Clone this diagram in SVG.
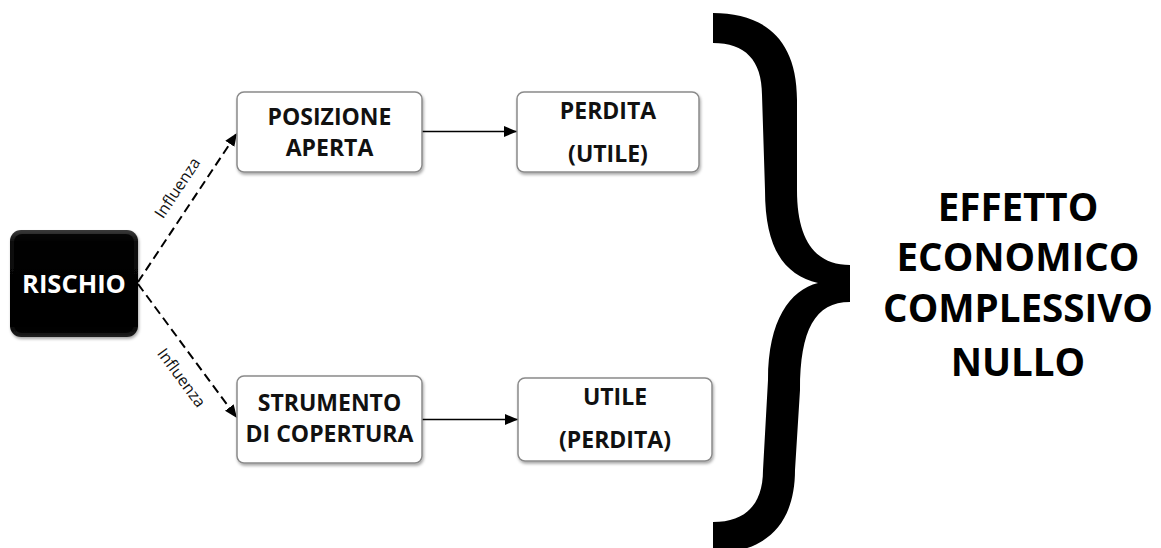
<svg xmlns="http://www.w3.org/2000/svg" width="1161" height="548" viewBox="0 0 1161 548">
  <defs>
    <style>
      .box { fill: #ffffff; stroke: #8a8a8a; stroke-width: 1.5; filter: url(#shadow); }
      .lbl { font-family: "Open Sans", "Liberation Sans", sans-serif; font-weight: 700; font-size: 23px; fill: #111111; text-anchor: middle; }
      .big { font-family: "Open Sans", "Liberation Sans", sans-serif; font-weight: 700; font-size: 38.5px; fill: #000000; text-anchor: middle; }
      .note { font-family: "Open Sans", "Liberation Sans", sans-serif; font-size: 16px; fill: #111111; text-anchor: middle; }
      .solid { stroke: #000000; stroke-width: 1.6; fill: none; marker-end: url(#arrow); }
      .dash { stroke: #000000; stroke-width: 2; fill: none; stroke-dasharray: 9 5; marker-end: url(#arrow); }
    </style>
    <marker id="arrow" viewBox="0 0 12 10" refX="12" refY="5" markerWidth="13" markerHeight="11" markerUnits="userSpaceOnUse" orient="auto">
      <path d="M0,0 L12,5 L0,10 Z" fill="#000000"/>
    </marker>
    <filter id="shadow" x="-10%" y="-10%" width="125%" height="130%">
      <feDropShadow dx="1" dy="2" stdDeviation="1.5" flood-color="#000000" flood-opacity="0.35"/>
    </filter>
    <linearGradient id="bevel" x1="0" y1="0" x2="0" y2="1">
      <stop offset="0" stop-color="#3a3a3a"/>
      <stop offset="0.12" stop-color="#0a0a0a"/>
      <stop offset="0.88" stop-color="#000000"/>
      <stop offset="1" stop-color="#1e1e1e"/>
    </linearGradient>
  </defs>

  <rect width="1161" height="548" fill="#ffffff"/>

  <!-- connectors -->
  <g id="connectors">
    <path class="dash" d="M138,282 L237,133"/>
    <path class="dash" d="M138,284 L237,418"/>
    <path class="solid" d="M422,131.5 L517,131.5"/>
    <path class="solid" d="M422,419.5 L518,419.5"/>
    <text class="note" transform="translate(182,191) rotate(-56.4)">Influenza</text>
    <text class="note" transform="translate(177,381) rotate(53.5)">Influenza</text>
  </g>

  <g id="rischio">
    <rect x="10" y="230" width="128" height="107" rx="11" fill="url(#bevel)" filter="url(#shadow)"/>
    <rect x="14" y="234" width="120" height="99" rx="8" fill="#000000" opacity="0.85"/>
    <text x="74" y="292.5" font-family="Open Sans, Liberation Sans, sans-serif" font-weight="700" font-size="25.5" fill="#ffffff" text-anchor="middle">RISCHIO</text>
  </g>

  <g id="posizione-aperta">
    <rect class="box" x="237" y="92" width="185" height="80" rx="7"/>
    <text class="lbl" x="329.5" y="125">POSIZIONE</text>
    <text class="lbl" x="329.5" y="156">APERTA</text>
  </g>

  <g id="strumento-copertura">
    <rect class="box" x="237" y="376" width="185" height="87" rx="7"/>
    <text class="lbl" x="329.5" y="410.5">STRUMENTO</text>
    <text class="lbl" x="329.5" y="441.5">DI COPERTURA</text>
  </g>

  <g id="perdita-utile">
    <rect class="box" x="517" y="92" width="182" height="80" rx="7"/>
    <text class="lbl" x="608" y="118.5">PERDITA</text>
    <text class="lbl" x="608" y="161.5">(UTILE)</text>
  </g>

  <g id="utile-perdita">
    <rect class="box" x="518" y="378" width="194" height="83" rx="7"/>
    <text class="lbl" x="615" y="405">UTILE</text>
    <text class="lbl" x="615" y="448">(PERDITA)</text>
  </g>

  <!-- closing brace -->
  <g id="brace">
    <path fill="#000000" d="M713,13 C760,13 797,35 797,100 L797,190 C797,240 815,265 850,265 L850,302 C815,302 800,330 800,390 L795,470 C795,520 770,553 713,553 L713,522 C745,522 763,505 763,470 L768,380 C768,320 790,290 818,283 C785,275 765,250 765,190 L762,95 C762,60 745,43 713,43 Z"/>
  </g>

  <g id="effetto">
    <text class="big" x="1018" y="221">EFFETTO</text>
    <text class="big" x="1018" y="271">ECONOMICO</text>
    <text class="big" x="1018" y="322">COMPLESSIVO</text>
    <text class="big" x="1018" y="376">NULLO</text>
  </g>
</svg>
